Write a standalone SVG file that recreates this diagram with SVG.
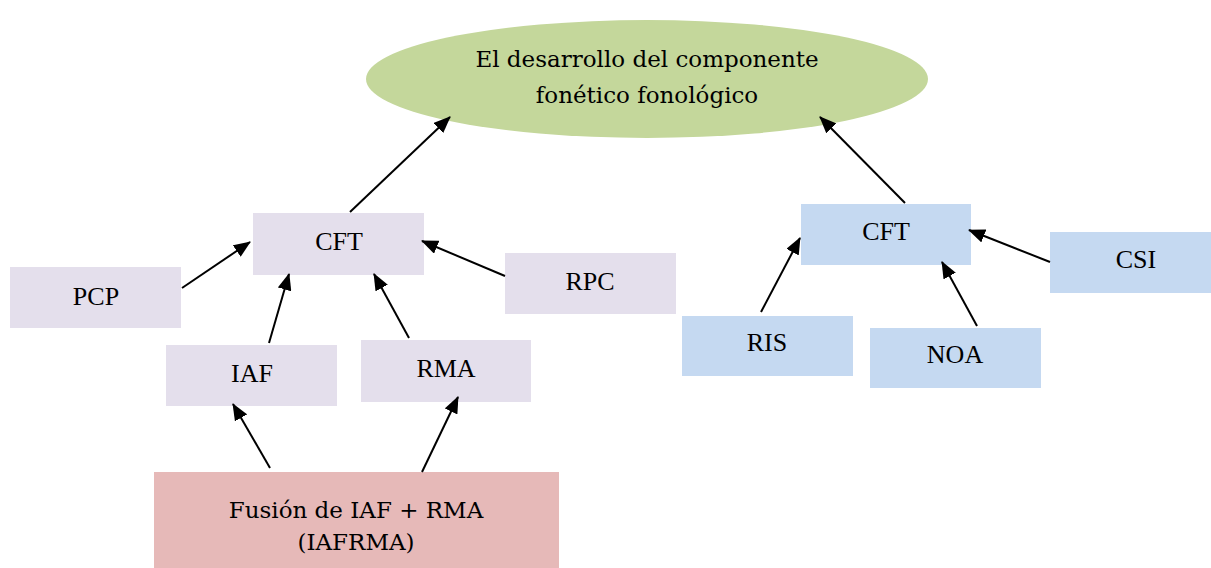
<svg xmlns="http://www.w3.org/2000/svg" width="1211" height="568" viewBox="0 0 1211 568">
<style>
.lav{fill:#E4DFEC}
.blu{fill:#C5D9F1}
.t{font-family:"Liberation Serif","Times New Roman",serif;font-size:26px;fill:#000;text-anchor:middle}
.b{font-family:"DejaVu Serif","Liberation Serif",serif;font-size:23px}
.c line{stroke:#000;stroke-width:2;marker-end:url(#ah)}
</style>
<defs>
<marker id="ah" viewBox="0 0 17 14" refX="16" refY="7" markerWidth="17" markerHeight="14" markerUnits="userSpaceOnUse" orient="auto">
<path d="M0,0 L17,7 L0,14 z" fill="#000"/>
</marker>
</defs>
<rect width="1211" height="568" fill="#fff"/>
<g id="goal">
<ellipse cx="647" cy="79" rx="281" ry="59" fill="#C4D79B"/>
<text class="t b" x="647" y="67">El desarrollo del componente</text>
<text class="t b" x="647" y="103">fonético fonológico</text>
</g>
<g id="cft-left"><rect class="lav" x="253" y="213" width="171" height="62"/><text class="t" x="339" y="250">CFT</text></g>
<g id="pcp"><rect class="lav" x="10" y="267" width="171" height="61"/><text class="t" x="96" y="305">PCP</text></g>
<g id="rpc"><rect class="lav" x="505" y="253" width="171" height="61"/><text class="t" x="590" y="290">RPC</text></g>
<g id="iaf"><rect class="lav" x="166" y="345" width="171" height="61"/><text class="t" x="252" y="382">IAF</text></g>
<g id="rma"><rect class="lav" x="361" y="340" width="170" height="62"/><text class="t" x="446" y="377">RMA</text></g>
<g id="fusion"><rect x="154" y="472" width="405" height="96" fill="#E6B9B8"/><text class="t b" x="356" y="518">Fusión de IAF + RMA</text><text class="t b" x="356" y="550">(IAFRMA)</text></g>
<g id="cft-right"><rect class="blu" x="801" y="204" width="170" height="61"/><text class="t" x="886" y="240">CFT</text></g>
<g id="csi"><rect class="blu" x="1050" y="232" width="161" height="61"/><text class="t" x="1136" y="268">CSI</text></g>
<g id="ris"><rect class="blu" x="682" y="316" width="171" height="60"/><text class="t" x="767" y="351">RIS</text></g>
<g id="noa"><rect class="blu" x="870" y="328" width="171" height="60"/><text class="t" x="955" y="363">NOA</text></g>
<g id="connectors" class="c">
<line x1="350" y1="212" x2="450" y2="117"/>
<line x1="905" y1="203" x2="820" y2="117"/>
<line x1="182" y1="288" x2="250" y2="242"/>
<line x1="505" y1="276" x2="422" y2="241"/>
<line x1="269" y1="343" x2="289" y2="274"/>
<line x1="409" y1="338" x2="374" y2="274"/>
<line x1="270" y1="468" x2="233" y2="404"/>
<line x1="422" y1="472" x2="458" y2="397"/>
<line x1="761" y1="312" x2="800" y2="238"/>
<line x1="977" y1="326" x2="942" y2="262"/>
<line x1="1050" y1="262" x2="969" y2="230"/>
</g>
</svg>
